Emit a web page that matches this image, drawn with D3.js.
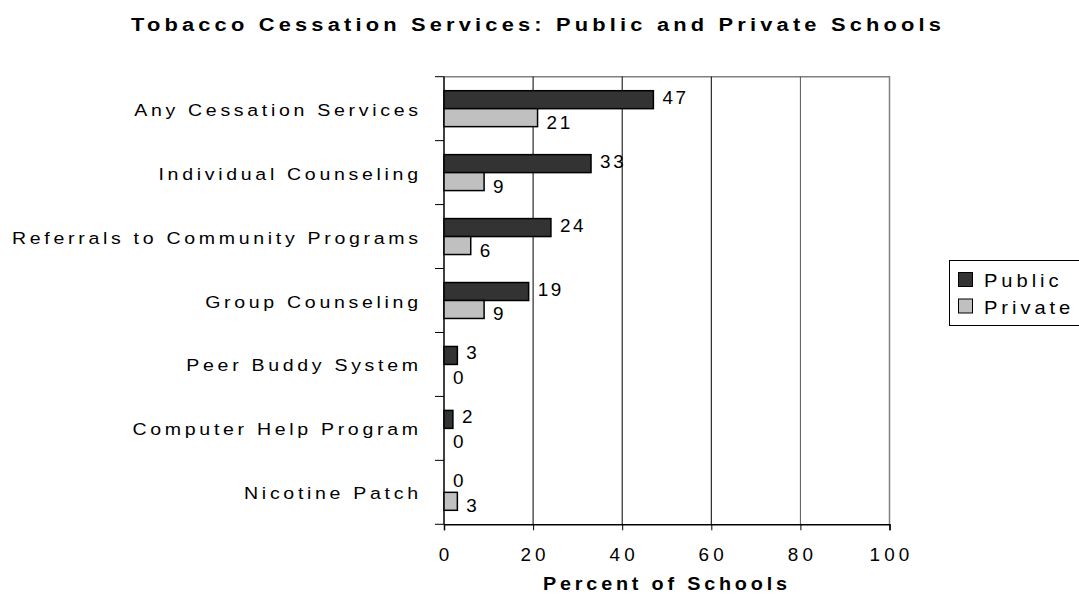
<!DOCTYPE html>
<html>
<head>
<meta charset="utf-8">
<script src="https://cdn.jsdelivr.net/npm/d3@7"></script>
<style>
  body { margin: 0; background: #fff; }
  text { font-family: "Liberation Sans", Arial, sans-serif; fill: #000; }
</style>
</head>
<body>
<svg id="chart"></svg>
<script>
'use strict';

// data
var categories = ["Any Cessation Services", "Individual Counseling", "Referrals to Community Programs",
                  "Group Counseling", "Peer Buddy System", "Computer Help Program", "Nicotine Patch"];
var publicValues = [47, 33, 24, 19, 3, 2, 0];
var privateValues = [21, 9, 6, 9, 0, 0, 3];
var seriesNames = ["Public", "Private"];
var xTicks = [0, 20, 40, 60, 80, 100];

var width = 1079, height = 601;
var plotL = 444, plotR = 889.5, plotT = 76.7, plotB = 524.3;
var colors = ["#333333", "#c0c0c0"];

var svg = d3.select('#chart')
  .attr('width', width)
  .attr('height', height);

var x = d3.scaleLinear().domain([0, 100]).range([plotL, plotR]);
var y = d3.scaleBand().domain(categories).range([plotT, plotB]).paddingInner(0).paddingOuter(0);
var inner = d3.scaleBand().domain(seriesNames).range([14, y.bandwidth() - 14]);

// the original picture is stretched sideways, text included
function wideText(parent, tx, ty, sx) {
  return parent.append('g')
    .attr('transform', 'translate(' + tx + ',' + ty + ') scale(' + sx + ',1)')
    .append('text');
}

// title
var tsx = 1.15;
wideText(svg, 131, 31, tsx)
  .attr('textLength', 810 / tsx)
  .attr('lengthAdjust', 'spacing')
  .style('font-size', '19px')
  .style('font-weight', 'bold')
  .text('Tobacco Cessation Services: Public and Private Schools');

// plot border (top + right, grey)
svg.append('path')
  .attr('d', 'M' + plotL + ',' + plotT + 'H' + plotR + 'V' + plotB)
  .attr('fill', 'none')
  .attr('stroke', '#808080')
  .attr('stroke-width', 1.5);

// gridlines
svg.append('g').selectAll('line')
  .data(xTicks.slice(1, -1))
  .join('line')
  .attr('x1', function (d) { return x(d); })
  .attr('x2', function (d) { return x(d); })
  .attr('y1', plotT)
  .attr('y2', plotB)
  .attr('stroke', function (d) { return d === 80 ? '#555' : '#000'; })
  .attr('stroke-width', 1);

// bottom axis
var xAxis = svg.append('g')
  .attr('transform', 'translate(0,' + plotB + ')')
  .call(d3.axisBottom(x).tickValues(xTicks).tickSize(6).tickFormat(''));
xAxis.select('.domain').attr('stroke', '#000').attr('stroke-width', 1.5);
xAxis.selectAll('.tick line').attr('stroke', '#000');
xTicks.forEach(function (t) {
  wideText(svg, x(t) + 2, plotB + 37, 1.05)
    .attr('text-anchor', 'middle')
    .style('font-size', '18px')
    .style('letter-spacing', '4px')
    .text(t);
});

// left axis
var yTickPos = d3.range(categories.length + 1).map(function (i) { return plotT + i * y.step(); });
svg.append('g').selectAll('line')
  .data(yTickPos)
  .join('line')
  .attr('x1', plotL - 9)
  .attr('x2', plotL)
  .attr('y1', function (d) { return d; })
  .attr('y2', function (d) { return d; })
  .attr('stroke', '#000');
svg.append('line')
  .attr('x1', plotL).attr('x2', plotL)
  .attr('y1', plotT).attr('y2', plotB)
  .attr('stroke', '#000')
  .attr('stroke-width', 1.5);

// category labels: spacing picked so the longest one spans 12 -> 418
var csx = 1.15;
var catLabels = categories.map(function (c) {
  return wideText(svg, 418, y(c) + y.bandwidth() / 2 + 7, csx)
    .attr('text-anchor', 'end')
    .style('font-size', '17px')
    .text(c);
});
var natural = catLabels[2].node().getComputedTextLength();
var catSpacing = (406 / csx - natural) / (categories[2].length - 1);
catLabels.forEach(function (t) {
  t.style('letter-spacing', catSpacing + 'px').attr('x', catSpacing);
});

// bars
var series = [publicValues, privateValues];
var labelShift = [-3, 4];
series.forEach(function (vals, si) {
  var g = svg.append('g');
  g.selectAll('rect')
    .data(vals)
    .join('rect')
    .attr('x', x(0))
    .attr('y', function (d, i) { return y(categories[i]) + inner(seriesNames[si]); })
    .attr('width', function (d) { return x(d) - x(0); })
    .attr('height', inner.bandwidth())
    .attr('fill', colors[si])
    .attr('stroke', '#000')
    .attr('stroke-width', 1.5);
  vals.forEach(function (v, i) {
    wideText(g, x(v) + 9, y(categories[i]) + inner(seriesNames[si]) + inner.bandwidth() / 2 + 7 + labelShift[si], 1.05)
      .style('font-size', '18px')
      .style('letter-spacing', '2.5px')
      .text(v);
  });
});

// axis title
var asx = 1.1;
wideText(svg, 543, 590, asx)
  .attr('textLength', 244 / asx)
  .attr('lengthAdjust', 'spacing')
  .style('font-size', '18px')
  .style('font-weight', 'bold')
  .text('Percent of Schools');

// legend
var legend = svg.append('g');
legend.append('rect')
  .attr('x', 949.5).attr('y', 260.5)
  .attr('width', 140).attr('height', 65)
  .attr('fill', '#fff')
  .attr('stroke', '#000');
seriesNames.forEach(function (name, i) {
  legend.append('rect')
    .attr('x', 958.5).attr('y', 272.5 + i * 26.5)
    .attr('width', 14).attr('height', 14)
    .attr('fill', colors[i])
    .attr('stroke', '#000');
  wideText(legend, 984, 287 + i * 26.5, 1.12)
    .style('font-size', '18px')
    .style('letter-spacing', '3.5px')
    .text(name);
});
</script>
</body>
</html>
